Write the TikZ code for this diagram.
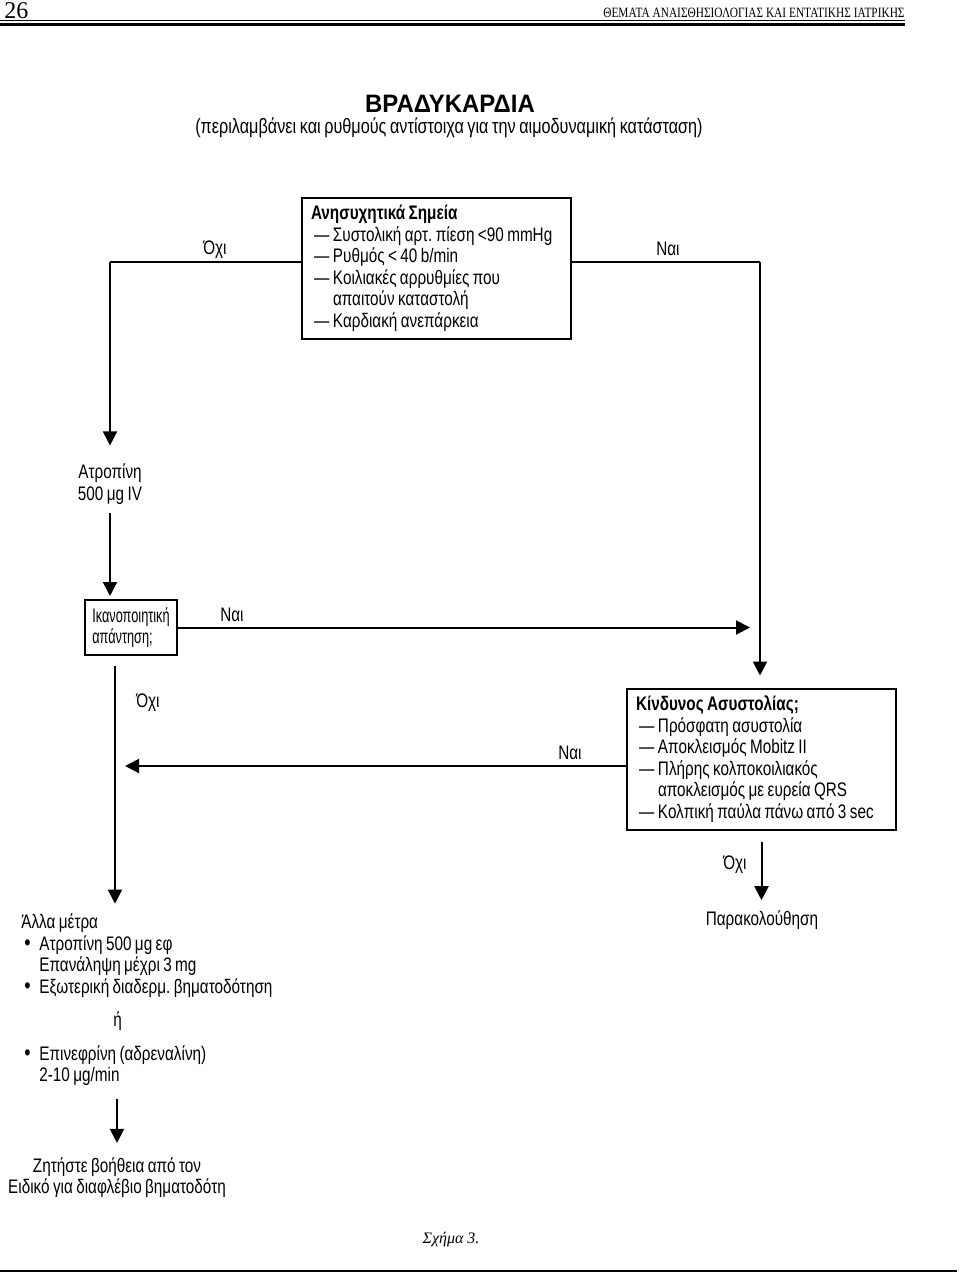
\documentclass[tikz,border=0pt]{standalone}
\usepackage{fontspec}
\setmainfont{Liberation Sans}[FakeStretch=0.78,WordSpace=0.8]
\newfontfamily\titlefont{Liberation Sans}[FakeStretch=0.95]
\newfontfamily\narrowfont{Liberation Sans}[FakeStretch=0.65,WordSpace=0.8]
\newfontfamily\headfont{Liberation Serif}[FakeStretch=0.8]
\newfontfamily\capfont{Liberation Serif}
\usetikzlibrary{positioning,arrows.meta,calc}
\frenchspacing
\newcommand\textsize{\fontsize{9.8}{10.75}\selectfont}
\newcommand\boxhead[1]{\hspace*{4.5pt}\textbf{#1}}
\newcommand\dashline{\hspace*{6pt}\makebox[9.5pt][l]{—}}
\newcommand\dashcont{\hspace*{15.5pt}}
\newcommand\bulline{\makebox[9pt][l]{\hspace{1.5pt}{\fontsize{11.5}{10}\selectfont•}}}

\begin{document}
\begin{tikzpicture}[x=0.5pt,y=-0.5pt,
	conn/.style={line width=1pt},
	arr/.style={conn,-{Triangle[length=7pt,width=7pt]}},
	txt/.style={inner sep=0pt,font=\textsize},
	lbl/.style={txt},
	bigbox/.style={draw,line width=1pt,minimum width=134.5pt,minimum height=70.5pt,
		text width=134.5pt,inner xsep=0pt,inner ysep=0pt,align=flush left,font=\textsize},
	smallbox/.style={draw,line width=1pt,minimum width=41pt,minimum height=27.5pt,
		inner xsep=3.5pt,inner ysep=0pt,align=left,font=\narrowfont\textsize}]
	\useasboundingbox (0,0) rectangle (960,1280);

	% page header
	\node[anchor=base west,inner sep=0pt,font=\capfont\fontsize{12}{14}\selectfont] (pagenum) at (4,18) {26};
	\node[anchor=base east,inner sep=0pt,font=\headfont\fontsize{7.1}{8}\selectfont] (runhead) at (905,17) {ΘΕΜΑΤΑ ΑΝΑΙΣΘΗΣΙΟΛΟΓΙΑΣ ΚΑΙ ΕΝΤΑΤΙΚΗΣ ΙΑΤΡΙΚΗΣ};
	\draw[line width=0.5pt] (0,20.5) -- (905,20.5);
	\draw[line width=1.5pt] (0,24.5) -- (905,24.5);

	% title
	\node[inner sep=0pt,font=\titlefont\bfseries\fontsize{12.6}{14}\selectfont] (title) at (450,103.5) {ΒΡΑΔΥΚΑΡΔΙΑ};
	\node[inner sep=0pt,font=\fontsize{10.4}{12}\selectfont] (subtitle) at (449,128) {(περιλαμβάνει και ρυθμούς αντίστοιχα για την αιμοδυναμική κατάσταση)};

	% boxes and steps
	\node[bigbox] (signs) at (436.5,268.5) {\boxhead{Ανησυχητικά Σημεία}\\
		\dashline Συστολική αρτ. πίεση <90 mmHg\\
		\dashline Ρυθμός < 40 b/min\\
		\dashline Κοιλιακές αρρυθμίες που\\
		\dashcont απαιτούν καταστολή\\
		\dashline Καρδιακή ανεπάρκεια};
	\node[txt,align=center] (atro) at (110,484) {Ατροπίνη\\500 μg IV};
	\node[smallbox] (ask) at (131,627.5) {Ικανοποιητική\\απάντηση;};
	\node[bigbox] (risk) at (761.5,759) {\boxhead{Κίνδυνος Ασυστολίας;}\\
		\dashline Πρόσφατη ασυστολία\\
		\dashline Αποκλεισμός Mobitz II\\
		\dashline Πλήρης κολποκοιλιακός\\
		\dashcont αποκλεισμός με ευρεία QRS\\
		\dashline Κολπική παύλα πάνω από 3 sec};
	\node[txt,align=left,anchor=west] (othr) at (21,1000) {Άλλα μέτρα\\
		\bulline Ατροπίνη 500 μg εφ\\
		\hspace*{9pt}Επανάληψη μέχρι 3 mg\\
		\bulline Εξωτερική διαδερμ. βηματοδότηση\\[6pt]
		\hspace*{46pt}ή\\[6pt]
		\bulline Επινεφρίνη (αδρεναλίνη)\\
		\hspace*{9pt}2-10 μg/min};
	\node[txt,align=center] (help) at (117,1177.5) {Ζητήστε βοήθεια από τον\\Ειδικό για διαφλέβιο βηματοδότη};
	\node[txt] (monit) at (762,920) {Παρακολούθηση};

	% answers
	\node[lbl] (noA) at (215,250) {Όχι};
	\node[lbl] (yesA) at (668,249) {Ναι};
	\node[lbl] (yesB) at (232,615) {Ναι};
	\node[lbl] (noB) at (148,703) {Όχι};
	\node[lbl] (yesC) at (570,753) {Ναι};
	\node[lbl] (noC) at (735,865) {Όχι};

	% connectors
	\coordinate (noTop) at (110,262);
	\coordinate (yesTop) at (760,262);
	\coordinate (yesMid) at (760,628);
	\coordinate (noMid) at (115,766);

	\draw[conn] (signs.west |- noTop) -- (noTop);
	\draw[arr,shorten >=9pt] (noTop) -- (atro.north);
	\draw[arr,shorten <=4pt,shorten >=1.5pt] (atro.south) -- (atro.south |- ask.north);
	\draw[arr,shorten >=5pt] (ask.east) -- (ask.east -| yesMid);
	\draw[conn] (signs.east |- yesTop) -- (yesTop);
	\draw[arr,shorten >=6pt] (yesTop) -- (yesTop |- risk.north);
	\draw[arr,shorten >=5pt] (risk.west |- noMid) -- (noMid);
	\draw[arr,shorten <=5pt,shorten >=5pt] (ask.south -| noMid) -- (othr.north -| noMid);
	\draw[arr,shorten <=6.5pt,shorten >=7pt] (othr.south -| help.north) -- (help.north);
	\draw[arr,shorten <=5.5pt,shorten >=5pt] (risk.south) -- (risk.south |- monit.north);

	% footer
	\node[inner sep=0pt,font=\capfont\itshape\fontsize{8}{10}\selectfont] (caption) at (451,1240) {Σχήμα 3.};
	\draw[line width=0.75pt] (0,1271) -- (957,1271);
\end{tikzpicture}
\end{document}
